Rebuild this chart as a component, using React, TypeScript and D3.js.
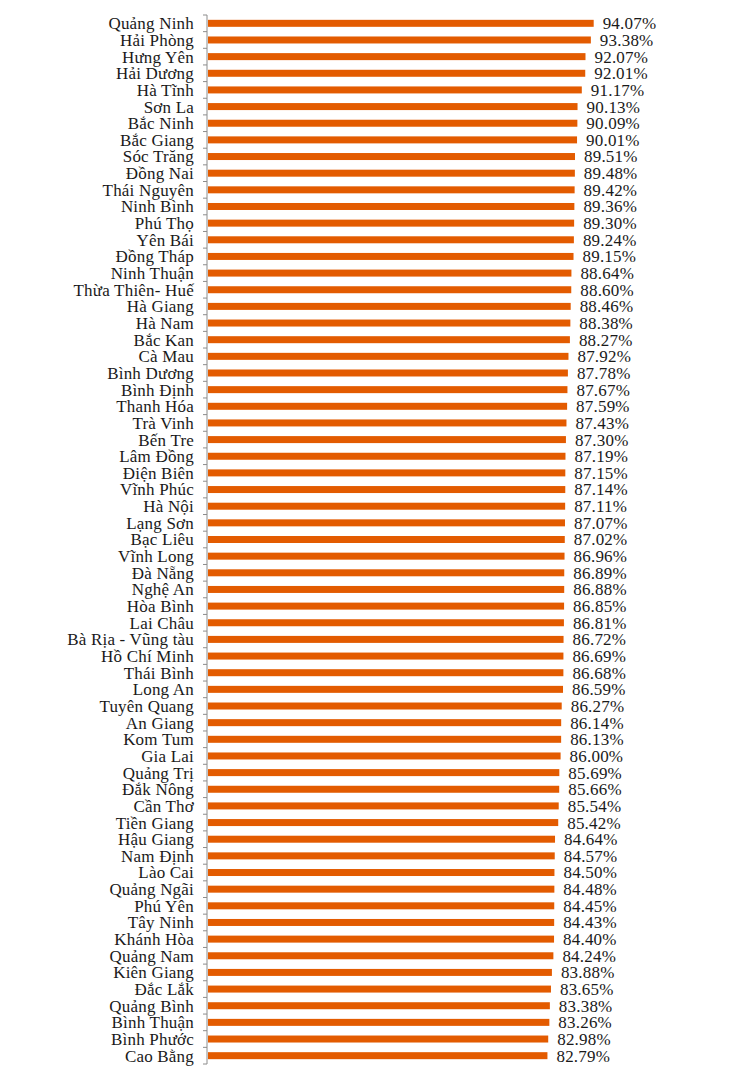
import * as d3 from 'd3'

const PROVINCES = [
  'Quảng Ninh', 'Hải Phòng', 'Hưng Yên', 'Hải Dương', 'Hà Tĩnh', 'Sơn La', 'Bắc Ninh', 'Bắc Giang',
  'Sóc Trăng', 'Đồng Nai', 'Thái Nguyên', 'Ninh Bình', 'Phú Thọ', 'Yên Bái', 'Đồng Tháp', 'Ninh Thuận',
  'Thừa Thiên- Huế', 'Hà Giang', 'Hà Nam', 'Bắc Kan', 'Cà Mau', 'Bình Dương', 'Bình Định', 'Thanh Hóa',
  'Trà Vinh', 'Bến Tre', 'Lâm Đồng', 'Điện Biên', 'Vĩnh Phúc', 'Hà Nội', 'Lạng Sơn', 'Bạc Liêu',
  'Vĩnh Long', 'Đà Nẵng', 'Nghệ An', 'Hòa Bình', 'Lai Châu', 'Bà Rịa - Vũng tàu', 'Hồ Chí Minh', 'Thái Bình',
  'Long An', 'Tuyên Quang', 'An Giang', 'Kom Tum', 'Gia Lai', 'Quảng Trị', 'Đắk Nông', 'Cần Thơ',
  'Tiền Giang', 'Hậu Giang', 'Nam Định', 'Lào Cai', 'Quảng Ngãi', 'Phú Yên', 'Tây Ninh', 'Khánh Hòa',
  'Quảng Nam', 'Kiên Giang', 'Đắc Lắk', 'Quảng Bình', 'Bình Thuận', 'Bình Phước', 'Cao Bằng',
]

const VALUES = [
  94.07, 93.38, 92.07, 92.01, 91.17, 90.13, 90.09, 90.01,
  89.51, 89.48, 89.42, 89.36, 89.30, 89.24, 89.15, 88.64,
  88.60, 88.46, 88.38, 88.27, 87.92, 87.78, 87.67, 87.59,
  87.43, 87.30, 87.19, 87.15, 87.14, 87.11, 87.07, 87.02,
  86.96, 86.89, 86.88, 86.85, 86.81, 86.72, 86.69, 86.68,
  86.59, 86.27, 86.14, 86.13, 86.00, 85.69, 85.66, 85.54,
  85.42, 84.64, 84.57, 84.50, 84.48, 84.45, 84.43, 84.40,
  84.24, 83.88, 83.65, 83.38, 83.26, 82.98, 82.79,
]

const W = 731
const H = 1080
const BAR = '#E35B00'
const AXIS = '#8C8C8C'
const FONT = 'Liberation Serif'

export default function App() {
  const rows = PROVINCES.map((name, i) => ({ name, v: VALUES[i] }))
  const x = d3.scaleLinear().domain([0, 100]).range([208, 618])
  const y = d3.scaleBand<string>().domain(PROVINCES).range([15, 1064]).paddingInner(0.58).paddingOuter(0.29)
  const step = y.step()
  const x0 = 207
  const top = y.range()[0]
  const bounds = d3.range(PROVINCES.length + 1).map((i) => top + i * step)
  const cy = (n: string) => y(n)! + y.bandwidth() / 2

  return (
    <div style={{ position: 'absolute', left: 0, top: 0, width: W, height: H, background: '#fff' }}>
      <svg width={W} height={H} style={{ display: 'block' }}>
        {rows.map((d) => (
          <rect key={d.name} x={x(0)} y={y(d.name)!} width={x(d.v) - x(0)} height={y.bandwidth()} fill={BAR} />
        ))}
        <line x1={x0} x2={x0} y1={bounds[0]} y2={bounds[bounds.length - 1]} stroke={AXIS} strokeWidth={1} />
        {bounds.map((b, i) => (
          <line key={i} x1={x0 - 4} x2={x0} y1={b} y2={b} stroke={AXIS} strokeWidth={1} />
        ))}
        {rows.map((d) => (
          <text key={d.name} x={194} y={cy(d.name)} dy="0.35em" textAnchor="end" fill="#1a1a1a"
            style={{ fontFamily: FONT, fontSize: 17, letterSpacing: '0.2px' }}>{d.name}</text>
        ))}
        {rows.map((d) => (
          <text key={'v' + d.name} x={x(d.v) + 9} y={cy(d.name)} dy="0.35em" fill="#1a1a1a"
            style={{ fontFamily: FONT, fontSize: 17, letterSpacing: '0.2px' }}>{d.v.toFixed(2)}%</text>
        ))}
      </svg>
    </div>
  )
}
